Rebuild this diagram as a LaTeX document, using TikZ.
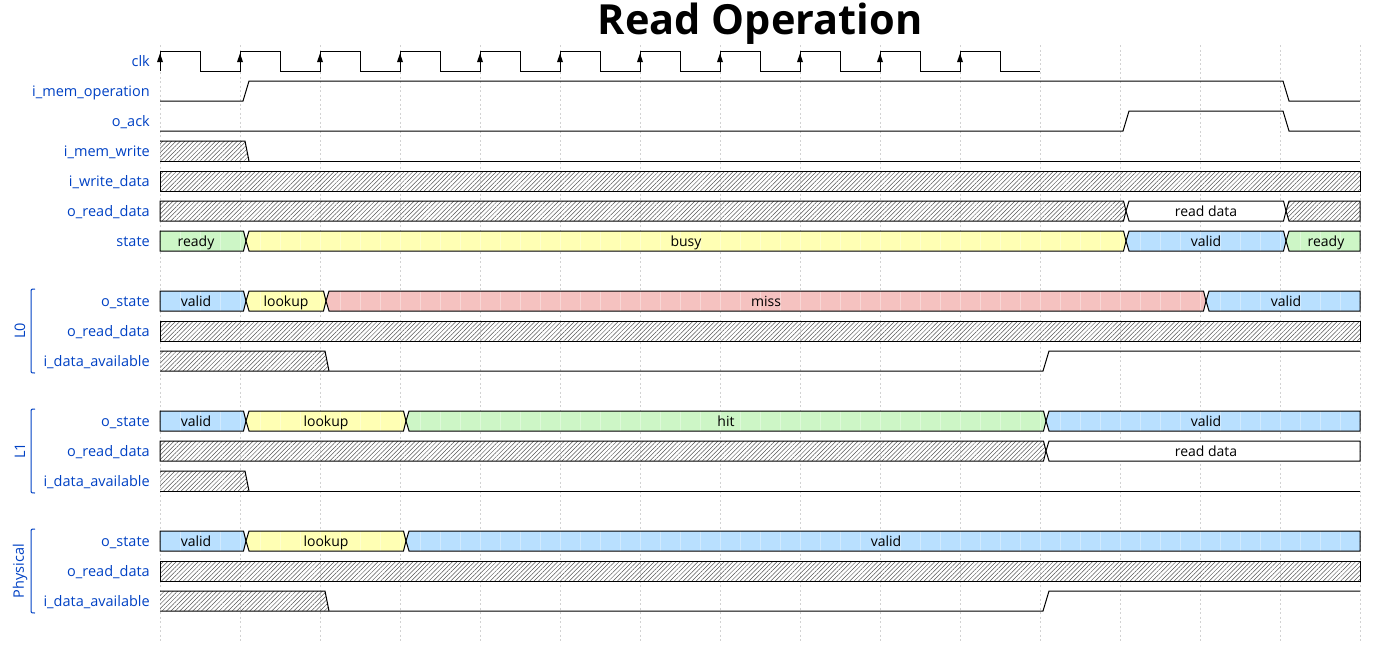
\documentclass[tikz,border=0pt]{standalone}
\usepackage{fontspec}
\setmainfont{Open Sans}
\usetikzlibrary{patterns.meta}
\definecolor{lbl}{HTML}{0041C4}
\definecolor{cyel}{HTML}{FFFFB4}
\definecolor{cblu}{HTML}{B9E0FF}
\definecolor{cgrn}{HTML}{CDF6C6}
\definecolor{cred}{HTML}{F5C2C0}
\definecolor{hatchc}{HTML}{555555}
\tikzset{
  wline/.style={black, line width=1pt, line join=miter},
  gridline/.style={gray!35, line width=0.7pt, dash pattern=on 2pt off 2.5pt},
  subline/.style={white, opacity=0.35, line width=1pt},
  dtext/.style={font=\fontsize{14}{16}\selectfont, text=black, inner sep=0pt, anchor=base},
  signame/.style={font=\fontsize{14.5}{16}\selectfont, text=lbl, inner sep=0pt, anchor=base east},
  grpname/.style={font=\fontsize{14.5}{16}\selectfont, text=lbl, inner sep=0pt, rotate=90},
  bracket/.style={lbl, line width=1pt},
  hatchfill/.style={pattern={Lines[angle=45,distance=3.1pt,line width=0.5pt]}, pattern color=hatchc},
}
% colored / white data segment
\newcommand\dseg[6]{%
  \ifnum#3=160 \def\la{0}\def\lc{0}\def\toff{-4}\else\def\la{9}\def\lc{6}\def\toff{6}\fi
  \ifnum#4=1360 \def\ra{0}\def\rc{0}\else\def\ra{3.5}\def\rc{6}\fi
  \fill[#5] (#3+\lc,#2) -- (#3+\la,#2-10) -- (#4+\ra,#2-10) -- (#4+\rc,#2) -- (#4+\ra,#2+10) -- (#3+\la,#2+10) -- cycle;
  \begin{scope}
    \clip (#3+\lc,#2) -- (#3+\la,#2-10) -- (#4+\ra,#2-10) -- (#4+\rc,#2) -- (#4+\ra,#2+10) -- (#3+\la,#2+10) -- cycle;
    \foreach \sx in {180,200,...,1340} \draw[subline] (\sx,#2-10) -- (\sx,#2+10);
  \end{scope}
  \draw[wline] (#3+\lc,#2) -- (#3+\la,#2-10) -- (#4+\ra,#2-10) -- (#4+\rc,#2);
  \draw[wline] (#3+\lc,#2) -- (#3+\la,#2+10) -- (#4+\ra,#2+10) -- (#4+\rc,#2);
  \pgfmathsetmacro\tx{(#3+#4)/2+\toff}
  \node[dtext] (#1) at (\tx,#2+5) {#6};
}
% hatched (undefined) data segment
\newcommand\xseg[3]{%
  \ifnum#2=160 \def\la{0}\def\lc{0}\else\def\la{9}\def\lc{6}\fi
  \ifnum#3=1360 \def\ra{0}\def\rc{0}\else\def\ra{3.5}\def\rc{6}\fi
  \fill[hatchfill] (#2+\lc,#1) -- (#2+\la,#1-10) -- (#3+\ra,#1-10) -- (#3+\rc,#1) -- (#3+\ra,#1+10) -- (#2+\la,#1+10) -- cycle;
  \draw[wline] (#2+\lc,#1) -- (#2+\la,#1-10) -- (#3+\ra,#1-10) -- (#3+\rc,#1);
  \draw[wline] (#2+\lc,#1) -- (#2+\la,#1+10) -- (#3+\ra,#1+10) -- (#3+\rc,#1);
}
% hatched start falling to low at #2
\newcommand\xlow[2]{%
  \fill[hatchfill] (160,#1-10) -- (#2+5,#1-10) -- (#2+9,#1+10) -- (160,#1+10) -- cycle;
  \draw[wline] (160,#1-10) -- (#2+5,#1-10) -- (#2+9,#1+10);
}
\begin{document}
\begin{tikzpicture}[x=1pt,y=-1pt]
\useasboundingbox (0,0) rectangle (1380,646);
% grid
\foreach \gx in {160,240,...,1360} \draw[gridline] (\gx,45) -- (\gx,643);
% title
\node[font=\fontsize{41.5}{44}\selectfont\bfseries, inner sep=0pt, anchor=base] (title) at (760,34) {Read Operation};
% signal names
\node[signame] (n1) at (150,66) {clk};
\node[signame] (n2) at (150,96) {i\_mem\_operation};
\node[signame] (n3) at (150,126) {o\_ack};
\node[signame] (n4) at (150,156) {i\_mem\_write};
\node[signame] (n5) at (150,186) {i\_write\_data};
\node[signame] (n6) at (150,216) {o\_read\_data};
\node[signame] (n7) at (150,246) {state};
\node[signame] (n8) at (150,306) {o\_state};
\node[signame] (n9) at (150,336) {o\_read\_data};
\node[signame] (n10) at (150,366) {i\_data\_available};
\node[signame] (n11) at (150,426) {o\_state};
\node[signame] (n12) at (150,456) {o\_read\_data};
\node[signame] (n13) at (150,486) {i\_data\_available};
\node[signame] (n14) at (150,546) {o\_state};
\node[signame] (n15) at (150,576) {o\_read\_data};
\node[signame] (n16) at (150,606) {i\_data\_available};
% groups
\foreach \gy/\gn/\gt in {331/g0/L0, 451/g1/L1, 571/g2/Physical}{
  \draw[bracket] (35,\gy-42) .. controls (31,\gy-42) .. (31,\gy-38) -- (31,\gy+38) .. controls (31,\gy+42) .. (35,\gy+42);
  \node[grpname] (\gn) at (20,\gy) {\gt};
}
% clk
\draw[wline] (160,71) -- (160,51)
  \foreach \cx in {160,240,...,960} { -- (\cx,51) -- (\cx+40,51) -- (\cx+40,71) -- (\cx+80,71) }
  \foreach \cx in {240,320,...,960} { (\cx,71) -- (\cx,51) };
\foreach \cx in {160,240,...,960} \fill (\cx,53.5) -- (\cx-3,62) -- (\cx+3,62) -- cycle;
% i_mem_operation
\draw[wline] (160,101) -- (243,101) -- (249,81) -- (1283,81) -- (1289,101) -- (1360,101);
% o_ack
\draw[wline] (160,131) -- (1123,131) -- (1129,111) -- (1283,111) -- (1289,131) -- (1360,131);
% i_mem_write
\xlow{151}{240}
\draw[wline] (160,161) -- (1360,161);
% i_write_data
\xseg{181}{160}{1360}
% o_read_data
\xseg{211}{160}{1120}
\dseg{rd0}{211}{1120}{1280}{white}{read data}
\xseg{211}{1280}{1360}
% state
\dseg{s1}{241}{160}{240}{cgrn}{ready}
\dseg{s2}{241}{240}{1120}{cyel}{busy}
\dseg{s3}{241}{1120}{1280}{cblu}{valid}
\dseg{s4}{241}{1280}{1360}{cgrn}{ready}
% L0
\dseg{a1}{301}{160}{240}{cblu}{valid}
\dseg{a2}{301}{240}{320}{cyel}{lookup}
\dseg{a3}{301}{320}{1200}{cred}{miss}
\dseg{a4}{301}{1200}{1360}{cblu}{valid}
\xseg{331}{160}{1360}
\xlow{361}{320}
\draw[wline] (160,371) -- (1043,371) -- (1049,351) -- (1360,351);
% L1
\dseg{b1}{421}{160}{240}{cblu}{valid}
\dseg{b2}{421}{240}{400}{cyel}{lookup}
\dseg{b3}{421}{400}{1040}{cgrn}{hit}
\dseg{b4}{421}{1040}{1360}{cblu}{valid}
\xseg{451}{160}{1040}
\dseg{b5}{451}{1040}{1360}{white}{read data}
\xlow{481}{240}
\draw[wline] (160,491) -- (1360,491);
% Physical
\dseg{c1}{541}{160}{240}{cblu}{valid}
\dseg{c2}{541}{240}{400}{cyel}{lookup}
\dseg{c3}{541}{400}{1360}{cblu}{valid}
\xseg{571}{160}{1360}
\xlow{601}{320}
\draw[wline] (160,611) -- (1043,611) -- (1049,591) -- (1360,591);
\end{tikzpicture}
\end{document}
